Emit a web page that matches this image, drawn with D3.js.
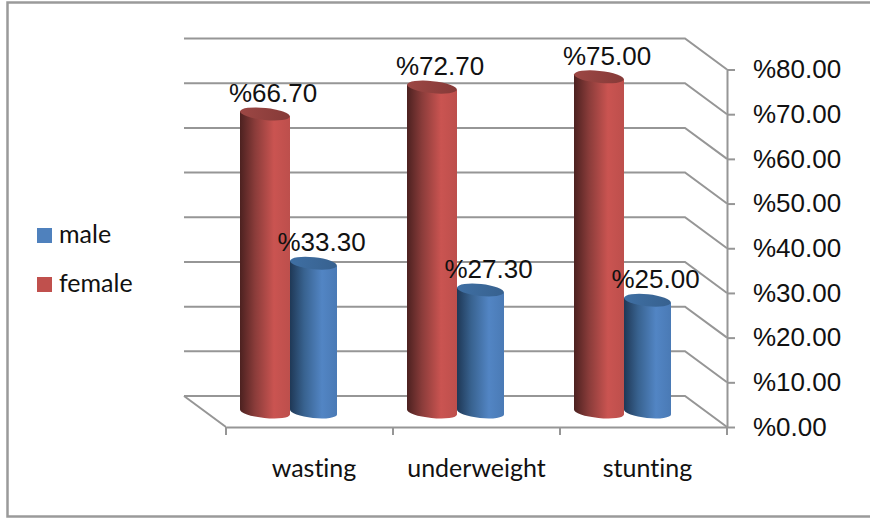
<!DOCTYPE html>
<html>
<head>
<meta charset="utf-8">
<script src="https://cdn.jsdelivr.net/npm/d3@7"></script>
<style>
  html, body { margin: 0; padding: 0; background: #fff; }
  svg { display: block; }
  text { font-variant-ligatures: none; }
  .axis path, .axis line { stroke: #969696; stroke-width: 2; }
</style>
</head>
<body>
<div id="root"></div>
<script>
const categories = ['wasting', 'underweight', 'stunting'];
const seriesNames = ['male', 'female'];
const maleValues = [33.3, 27.3, 25];
const femaleValues = [66.7, 72.7, 75];
const yTicks = [0, 10, 20, 30, 40, 50, 60, 70, 80];

const width = 870, height = 518;
const gridColor = '#969696';
const numberFont = '"Liberation Sans", Arial, sans-serif';
const labelFont = 'Lato, "Noto Sans", sans-serif';

// the floor is drawn as a parallelogram, the back wall sits this far behind the front edge
const depthX = 42, depthY = 31;

const svg = d3.select('#root').append('svg')
  .attr('width', width)
  .attr('height', height)
  .attr('viewBox', [0, 0, width, height]);

const x = d3.scaleBand().domain(categories).range([226, 727]);
const y = d3.scaleLinear().domain([0, 80]).range([427, 69.5]);

// where each cylinder sits inside its category band
const seriesSpan = { female: [14, 64], male: [64, 111] };
const baseShift = 15;

// gradients for the round sides and the caps
const defs = svg.append('defs');
function sideGradient(id, stops) {
  const grad = defs.append('linearGradient').attr('id', id);
  grad.selectAll('stop')
    .data(stops)
    .join('stop')
    .attr('offset', (d) => d[0])
    .attr('stop-color', (d) => d[1]);
}
sideGradient('side-female', [[0, '#4c2120'], [0.3, '#8a3c3a'], [0.68, '#ca5451'], [1, '#bd4f4c']]);
sideGradient('side-male', [[0, '#1f3856'], [0.3, '#38628f'], [0.68, '#5285c4'], [1, '#4a7ab5']]);
sideGradient('cap-female', [[0, '#9c4744'], [1, '#863a38']]);
sideGradient('cap-male', [[0, '#3f6fa3'], [1, '#37618f']]);

// outer frame, open on the right
svg.append('path')
  .attr('d', `M${width},2.5 H7.5 V516.5 H${width}`)
  .attr('fill', 'none')
  .attr('stroke', '#9a9a9a')
  .attr('stroke-width', 2.5);

// gridlines run along the back wall and then fold forward down to the value axis
svg.append('g')
  .selectAll('path')
  .data(yTicks)
  .join('path')
  .attr('fill', 'none')
  .attr('stroke', gridColor)
  .attr('stroke-width', 2)
  .attr('d', (d) => `M${x.range()[0] - depthX},${y(d) - depthY} H${x.range()[1] - depthX} L${x.range()[1]},${y(d)}`);

// left edge of the floor
svg.append('path')
  .attr('fill', 'none')
  .attr('stroke', gridColor)
  .attr('stroke-width', 2)
  .attr('d', `M${x.range()[0] - depthX},${y(0) - depthY} L${x.range()[0]},${y(0)}`);

// value axis on the right
const yAxis = svg.append('g')
  .attr('class', 'axis')
  .attr('transform', `translate(${x.range()[1]},0)`)
  .call(d3.axisRight(y)
    .tickValues(yTicks)
    .tickSize(8)
    .tickSizeOuter(0)
    .tickPadding(18)
    .tickFormat((d) => '%' + d.toFixed(2)));
yAxis.selectAll('text')
  .attr('font-family', numberFont)
  .attr('font-size', 26)
  .attr('fill', '#111');

// category axis, ticks go on the band edges and the labels on the band centres
const labelNudge = [4.5, 0, 4];
const xAxis = svg.append('g')
  .attr('class', 'axis')
  .attr('transform', `translate(0,${y(0)})`)
  .call(d3.axisBottom(x).tickSize(0).tickSizeOuter(0).tickPadding(32));
xAxis.selectAll('text')
  .attr('font-family', labelFont)
  .attr('font-size', 25)
  .attr('fill', '#111')
  .attr('dx', (d, i) => labelNudge[i]);
xAxis.selectAll('.edge')
  .data([...categories.map((c) => x(c)), x.range()[1]])
  .join('line')
  .attr('class', 'edge')
  .attr('x1', (d) => d)
  .attr('x2', (d) => d)
  .attr('y2', 8);

// one row per cylinder, male first so the female side overlaps it
const bars = seriesNames.flatMap((name) => {
  const values = name === 'male' ? maleValues : femaleValues;
  return categories.map((category, i) => ({ name, category, value: values[i] }));
});

const tilt = 6;
const capRy = 6;

function barGeometry(d) {
  const [a, b] = seriesSpan[d.name];
  const left = x(d.category) + a;
  const right = x(d.category) + b;
  const rx = (right - left) / 2;
  const drop = Math.sin(tilt * Math.PI / 180) * rx;
  return { left, right, rx, drop, top: y(d.value) - baseShift, bottom: y(0) - baseShift };
}

const barGroups = svg.append('g')
  .selectAll('g')
  .data(bars)
  .join('g');

barGroups.append('path')
  .attr('fill', (d) => `url(#side-${d.name})`)
  .attr('d', (d) => {
    const g = barGeometry(d);
    return `M${g.left},${g.top - g.drop} V${g.bottom - g.drop}`
      + ` A${g.rx},${capRy} ${tilt} 0 0 ${g.right},${g.bottom + g.drop}`
      + ` V${g.top + g.drop} Z`;
  });

barGroups.append('ellipse')
  .attr('fill', (d) => `url(#cap-${d.name})`)
  .attr('rx', (d) => barGeometry(d).rx)
  .attr('ry', capRy)
  .attr('transform', (d) => {
    const g = barGeometry(d);
    return `translate(${(g.left + g.right) / 2},${g.top}) rotate(${tilt})`;
  });

// value labels above each cylinder
svg.append('g')
  .selectAll('text')
  .data(bars)
  .join('text')
  .attr('font-family', numberFont)
  .attr('font-size', 26)
  .attr('fill', '#111')
  .attr('text-anchor', 'middle')
  .attr('x', (d) => {
    const g = barGeometry(d);
    return (g.left + g.right) / 2 + 8;
  })
  .attr('y', (d) => barGeometry(d).top - 12)
  .text((d) => '%' + d.value.toFixed(2));

// legend
const legendColor = { male: '#4f81bd', female: '#c0504d' };
const legend = svg.append('g')
  .selectAll('g')
  .data(seriesNames)
  .join('g')
  .attr('transform', (d, i) => `translate(37,${228 + i * 49})`);
legend.append('rect')
  .attr('width', 15)
  .attr('height', 15)
  .attr('fill', (d) => legendColor[d]);
legend.append('text')
  .attr('x', 22)
  .attr('y', 15)
  .attr('font-family', labelFont)
  .attr('font-size', 25)
  .attr('fill', '#111')
  .text((d) => d);
</script>
</body>
</html>
